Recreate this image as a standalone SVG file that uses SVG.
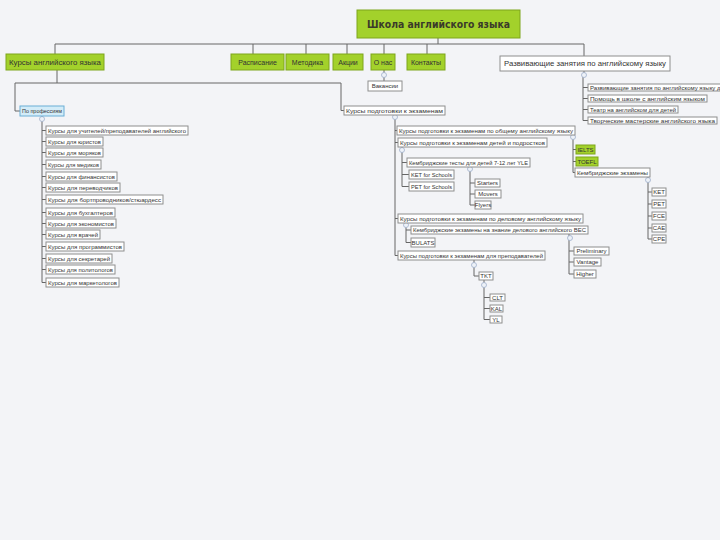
<svg xmlns="http://www.w3.org/2000/svg" width="720" height="540" viewBox="0 0 720 540">
<style>
.bg{fill:#f3f4f7}
.b{fill:#fff;stroke:#8e8e8e;stroke-width:1}
.g{fill:#a3d12b;stroke:#7ea51d;stroke-width:1}
.s{fill:#d3ecf8;stroke:#6aaed6;stroke-width:1}
.t{font-family:"Liberation Sans",Arial,sans-serif;font-size:6px;fill:#333}
.m{font-family:"Liberation Sans",Arial,sans-serif;font-size:7px;fill:#333}
.h{font-family:"DejaVu Sans","Liberation Sans",sans-serif;font-size:10px;font-weight:bold;fill:#3a3a2a}
.c{fill:none;stroke:#666;stroke-width:1}
.k{fill:#eef2f8;stroke:#9fb0cc;stroke-width:0.8}
</style>
<rect class="bg" x="0" y="0" width="720" height="540"/>
<g id="connectors">
<path class="c" d="M438,38V44 M55,44H584 M55,44V54 M253,44V54 M306,44V54 M347,44V54 M384,44V54 M427,44V54 M584,44V56
M57,70V83 M15,83H341 M15,83V111H20 M341,83V110.5H344
M384,70V81
M584,71V77 M583,77V120.5 M583,87.5H588 M583,98.5H588 M583,109.5H588 M583,120.5H588
M42,116V282.5 M42,130.5H46 M42,141.5H46 M42,152.5H46 M42,164.5H46 M42,176.5H46 M42,187.5H46 M42,199.5H46 M42,212.5H46 M42,223.5H46 M42,234.5H46 M42,246.5H46 M42,258.5H46 M42,269.5H46 M42,282.5H46
M395,115V255.5 M395,130.5H397 M395,142.5H398 M395,218.5H398 M395,255.5H398
M573,134V172.5 M573,149.5H576 M573,161.5H576 M573,172.5H575
M648,177V239 M648,192H652 M648,204H652 M648,216H652 M648,228H652 M648,239H652
M402,147V186.5 M402,162.5H407 M402,174.5H409 M402,186.5H409
M470,167V205 M470,183H475 M470,194H475 M470,205H475
M406,222V242.5 M406,230H411 M406,242.5H411
M569,234V274 M569,251H574 M569,262H574 M569,274H574
M474,260V276 M474,276H479
M484,280V319.5 M484,297.5H490 M484,308.5H490 M484,319.5H490"/>
<circle class="k" cx="42" cy="119" r="2.5"/>
<circle class="k" cx="395" cy="117" r="2.5"/>
<circle class="k" cx="573" cy="137" r="2.5"/>
<circle class="k" cx="648" cy="180" r="2.5"/>
<circle class="k" cx="402" cy="150" r="2.5"/>
<circle class="k" cx="470" cy="169" r="2.5"/>
<circle class="k" cx="406" cy="225" r="2.5"/>
<circle class="k" cx="570" cy="238" r="2.5"/>
<circle class="k" cx="474" cy="265" r="2.5"/>
<circle class="k" cx="484" cy="285" r="2.5"/>
<circle class="k" cx="584" cy="75" r="2.5"/>
<circle class="k" cx="384" cy="75" r="2.5"/>
</g>
<g id="root"><rect class="g" x="357" y="10" width="163" height="28"/><text class="h" x="367" y="27.5" textLength="143" lengthAdjust="spacingAndGlyphs">Школа английского языка</text></g>
<g id="n-courses"><rect class="g" x="6" y="54" width="98" height="16"/><text class="m" x="9" y="64.5" textLength="92" lengthAdjust="spacingAndGlyphs">Курсы английского языка</text></g>
<g id="n-schedule"><rect class="g" x="231" y="54" width="53" height="16"/><text class="m" x="257.5" y="64.5" text-anchor="middle">Расписание</text></g>
<g id="n-method"><rect class="g" x="286" y="54" width="43" height="16"/><text class="m" x="307.5" y="64.5" text-anchor="middle">Методика</text></g>
<g id="n-promo"><rect class="g" x="333" y="54" width="30" height="16"/><text class="m" x="348" y="64.5" text-anchor="middle">Акции</text></g>
<g id="n-about"><rect class="g" x="371" y="54" width="24" height="16"/><text class="m" x="383" y="64.5" text-anchor="middle">О нас</text></g>
<g id="n-contacts"><rect class="g" x="407" y="54" width="38" height="16"/><text class="m" x="426" y="64.5" text-anchor="middle">Контакты</text></g>
<g id="n-dev"><rect class="b" x="500" y="56" width="170" height="15"/><text class="m" x="504" y="66" textLength="162" lengthAdjust="spacingAndGlyphs">Развивающие занятия по английскому языку</text></g>
<g id="n-vac"><rect class="b" x="368" y="81" width="34" height="10"/><text class="t" x="385" y="88" text-anchor="middle">Вакансии</text></g>
<g id="r1"><rect class="b" x="588" y="84" width="136" height="7"/><text class="t" x="590" y="89.7">Развивающие занятия по английскому языку д</text></g>
<g id="r2"><rect class="b" x="588" y="95" width="119" height="7"/><text class="t" x="590" y="100.7" textLength="115" lengthAdjust="spacingAndGlyphs">Помощь в школе с английским языком</text></g>
<g id="r3"><rect class="b" x="588" y="106" width="90" height="7"/><text class="t" x="590" y="111.7" textLength="86" lengthAdjust="spacingAndGlyphs">Театр на английском для детей</text></g>
<g id="r4"><rect class="b" x="588" y="117" width="129" height="7"/><text class="t" x="590" y="122.7" textLength="125" lengthAdjust="spacingAndGlyphs">Творческие мастерские английского языка</text></g>
<g id="n-prof"><rect class="s" x="20" y="106" width="44" height="10"/><text class="t" x="22" y="113" textLength="40" lengthAdjust="spacingAndGlyphs">По профессиям</text></g>
<g id="p1"><rect class="b" x="46" y="126" width="142" height="9"/><text class="t" x="48" y="132.5" textLength="138" lengthAdjust="spacingAndGlyphs">Курсы для учителей/преподавателей английского</text></g>
<g id="p2"><rect class="b" x="46" y="137" width="57" height="9"/><text class="t" x="48" y="143.5" textLength="53" lengthAdjust="spacingAndGlyphs">Курсы для юристов</text></g>
<g id="p3"><rect class="b" x="46" y="148" width="57" height="9"/><text class="t" x="48" y="154.5" textLength="53" lengthAdjust="spacingAndGlyphs">Курсы для моряков</text></g>
<g id="p4"><rect class="b" x="46" y="160" width="55" height="9"/><text class="t" x="48" y="166.5" textLength="51" lengthAdjust="spacingAndGlyphs">Курсы для медиков</text></g>
<g id="p5"><rect class="b" x="46" y="172" width="71" height="9"/><text class="t" x="48" y="178.5" textLength="67" lengthAdjust="spacingAndGlyphs">Курсы для финансистов</text></g>
<g id="p6"><rect class="b" x="46" y="183" width="74" height="9"/><text class="t" x="48" y="189.5" textLength="70" lengthAdjust="spacingAndGlyphs">Курсы для переводчиков</text></g>
<g id="p7"><rect class="b" x="46" y="195" width="117" height="9"/><text class="t" x="48" y="201.5" textLength="113" lengthAdjust="spacingAndGlyphs">Курсы для бортпроводников/стюардесс</text></g>
<g id="p8"><rect class="b" x="46" y="208" width="69" height="9"/><text class="t" x="48" y="214.5" textLength="65" lengthAdjust="spacingAndGlyphs">Курсы для бухгалтеров</text></g>
<g id="p9"><rect class="b" x="46" y="219" width="70" height="9"/><text class="t" x="48" y="225.5" textLength="66" lengthAdjust="spacingAndGlyphs">Курсы для экономистов</text></g>
<g id="p10"><rect class="b" x="46" y="230" width="54" height="9"/><text class="t" x="48" y="236.5" textLength="50" lengthAdjust="spacingAndGlyphs">Курсы для врачей</text></g>
<g id="p11"><rect class="b" x="46" y="242" width="78" height="9"/><text class="t" x="48" y="248.5" textLength="74" lengthAdjust="spacingAndGlyphs">Курсы для программистов</text></g>
<g id="p12"><rect class="b" x="46" y="254" width="66" height="9"/><text class="t" x="48" y="260.5" textLength="62" lengthAdjust="spacingAndGlyphs">Курсы для секретарей</text></g>
<g id="p13"><rect class="b" x="46" y="265" width="69" height="9"/><text class="t" x="48" y="271.5" textLength="65" lengthAdjust="spacingAndGlyphs">Курсы для политологов</text></g>
<g id="p14"><rect class="b" x="46" y="278" width="73" height="9"/><text class="t" x="48" y="284.5" textLength="69" lengthAdjust="spacingAndGlyphs">Курсы для маркетологов</text></g>
<g id="n-exam"><rect class="b" x="344" y="106" width="101" height="9"/><text class="t" x="346" y="112.5" textLength="97" lengthAdjust="spacingAndGlyphs">Курсы подготовки к экзаменам</text></g>
<g id="e1"><rect class="b" x="397" y="126" width="178" height="9"/><text class="t" x="399" y="132.5" textLength="174" lengthAdjust="spacingAndGlyphs">Курсы подготовки к экзаменам по общему английскому языку</text></g>
<g id="e2"><rect class="b" x="398" y="138" width="149" height="9"/><text class="t" x="400" y="144.5" textLength="145" lengthAdjust="spacingAndGlyphs">Курсы подготовки к экзаменам детей и подростков</text></g>
<g id="e3"><rect class="b" x="398" y="214" width="185" height="9"/><text class="t" x="400" y="220.5" textLength="181" lengthAdjust="spacingAndGlyphs">Курсы подготовки к экзаменам по деловому английскому языку</text></g>
<g id="e4"><rect class="b" x="398" y="251" width="147" height="9"/><text class="t" x="400" y="257.5" textLength="143" lengthAdjust="spacingAndGlyphs">Курсы подготовки к экзаменам для преподавателей</text></g>
<g id="ielts"><rect class="g" x="576" y="145" width="19" height="9"/><text class="t" x="585.5" y="151.5" text-anchor="middle">IELTS</text></g>
<g id="toefl"><rect class="g" x="576" y="157" width="22" height="9"/><text class="t" x="587" y="163.5" text-anchor="middle">TOEFL</text></g>
<g id="cam"><rect class="b" x="575" y="168" width="75" height="9"/><text class="t" x="577" y="174.5" textLength="71" lengthAdjust="spacingAndGlyphs">Кембриджские экзамены</text></g>
<g id="ket"><rect class="b" x="652" y="188" width="14" height="8"/><text class="t" x="659" y="194" text-anchor="middle">KET</text></g>
<g id="pet"><rect class="b" x="652" y="200" width="14" height="8"/><text class="t" x="659" y="206" text-anchor="middle">PET</text></g>
<g id="fce"><rect class="b" x="652" y="212" width="14" height="8"/><text class="t" x="659" y="218" text-anchor="middle">FCE</text></g>
<g id="cae"><rect class="b" x="652" y="224" width="14" height="8"/><text class="t" x="659" y="230" text-anchor="middle">CAE</text></g>
<g id="cpe"><rect class="b" x="652" y="235" width="14" height="8"/><text class="t" x="659" y="241" text-anchor="middle">CPE</text></g>
<g id="yle"><rect class="b" x="407" y="158" width="123" height="9"/><text class="t" x="409" y="164.5" textLength="119" lengthAdjust="spacingAndGlyphs">Кембриджские тесты для детей 7-12 лет YLE</text></g>
<g id="kets"><rect class="b" x="409" y="170" width="45" height="9"/><text class="t" x="411" y="176.5" textLength="41" lengthAdjust="spacingAndGlyphs">KET for Schools</text></g>
<g id="pets"><rect class="b" x="409" y="182" width="45" height="9"/><text class="t" x="411" y="188.5" textLength="41" lengthAdjust="spacingAndGlyphs">PET for Schools</text></g>
<g id="starters"><rect class="b" x="475" y="179" width="25" height="8"/><text class="t" x="487.5" y="185" text-anchor="middle">Starters</text></g>
<g id="movers"><rect class="b" x="475" y="190" width="26" height="8"/><text class="t" x="488" y="196" text-anchor="middle">Movers</text></g>
<g id="flyers"><rect class="b" x="475" y="201" width="16" height="8"/><text class="t" x="483" y="207" text-anchor="middle">Flyers</text></g>
<g id="bec"><rect class="b" x="411" y="226" width="177" height="8"/><text class="t" x="413" y="232" textLength="173" lengthAdjust="spacingAndGlyphs">Кембриджские экзамены на знание делового английского BEC</text></g>
<g id="bulats"><rect class="b" x="411" y="238" width="24" height="9"/><text class="t" x="423" y="244.5" text-anchor="middle">BULATS</text></g>
<g id="prelim"><rect class="b" x="574" y="247" width="35" height="8"/><text class="t" x="591.5" y="253" text-anchor="middle">Preliminary</text></g>
<g id="vantage"><rect class="b" x="574" y="258" width="27" height="8"/><text class="t" x="587.5" y="264" text-anchor="middle">Vantage</text></g>
<g id="higher"><rect class="b" x="574" y="270" width="22" height="8"/><text class="t" x="585" y="276" text-anchor="middle">Higher</text></g>
<g id="tkt"><rect class="b" x="479" y="272" width="14" height="8"/><text class="t" x="486" y="278" text-anchor="middle">TKT</text></g>
<g id="clt"><rect class="b" x="490" y="294" width="15" height="7"/><text class="t" x="497.5" y="299.5" text-anchor="middle">CLT</text></g>
<g id="kal"><rect class="b" x="490" y="305" width="13" height="7"/><text class="t" x="496.5" y="310.5" text-anchor="middle">KAL</text></g>
<g id="yl"><rect class="b" x="490" y="316" width="12" height="7"/><text class="t" x="496" y="321.5" text-anchor="middle">YL</text></g>
</svg>
